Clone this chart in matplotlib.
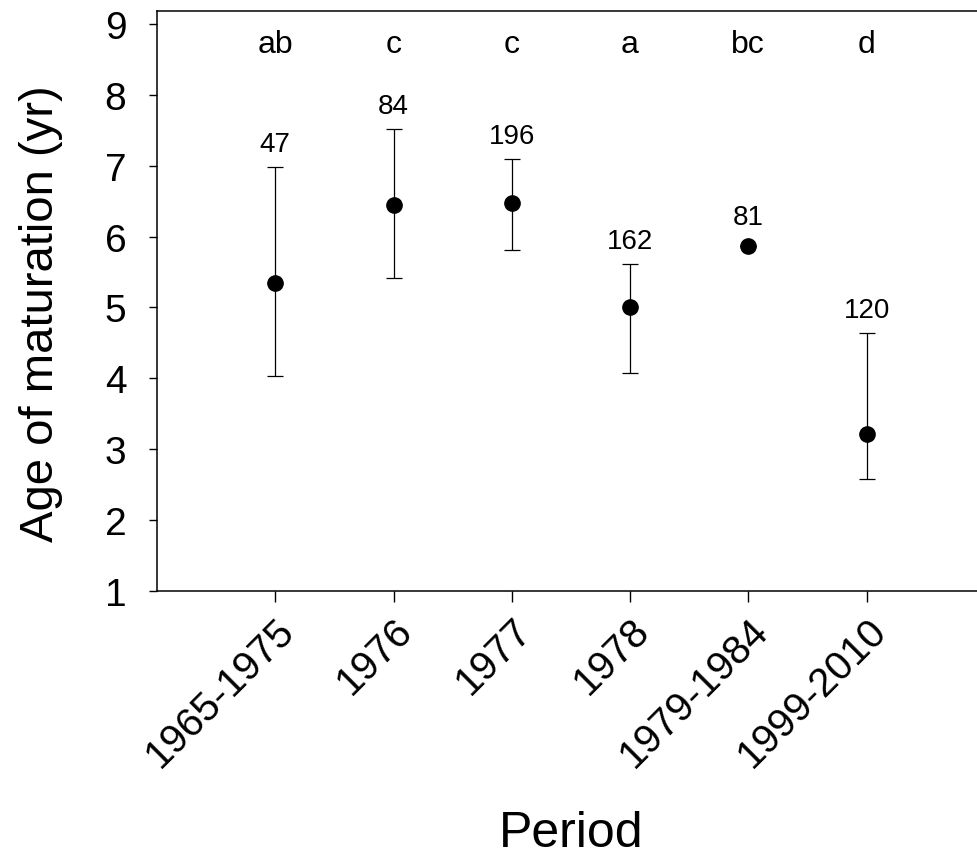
import numpy as np
import matplotlib
matplotlib.use("Agg")
import matplotlib.pyplot as plt

plt.rcParams['font.family'] = ['Liberation Sans', 'DejaVu Sans']

periods = ['1965-1975', '1976', '1977', '1978', '1979-1984', '1999-2010']
means = [5.34, 6.44, 6.47, 5.00, 5.87, 3.22]
lows = [4.03, 5.42, 5.81, 4.07, np.nan, 2.58]
highs = [6.98, 7.52, 7.10, 5.61, np.nan, 4.64]
n_fish = [47, 84, 196, 162, 81, 120]
groups = ['ab', 'c', 'c', 'a', 'bc', 'd']

x = np.arange(1, len(periods) + 1)
means_a = np.array(means)
err = np.array([means_a - np.array(lows), np.array(highs) - means_a])
err = np.nan_to_num(err)

fig = plt.figure(figsize=(9.78, 8.62), dpi=100)
ax = fig.add_axes([0.1605, 0.3132, 0.8465, 0.6728])

ax.errorbar(x, means, yerr=err, fmt='o', color='black', ms=11,
            ecolor='black', elinewidth=0.9, capsize=6, capthick=0.9)

for xi, m, hi, n in zip(x, means, highs, n_fish):
    if np.isnan(hi):
        ax.annotate(str(n), (xi, m), xytext=(0, 11), textcoords='offset points',
                    ha='center', va='bottom', fontsize=20)
    else:
        ax.annotate(str(n), (xi, hi), xytext=(0, 7), textcoords='offset points',
                    ha='center', va='bottom', fontsize=20)

for xi, g in zip(x, groups):
    ax.text(xi, 8.6, g, ha='center', va='baseline', fontsize=23)

ax.set_xlim(0, 7)
ax.set_ylim(1, 9.18)
ax.set_yticks(range(1, 10))
ax.set_xticks(x)
ax.set_xticklabels(periods, rotation=45, ha='right', va='top',
                   rotation_mode='anchor', fontsize=29)
ax.tick_params(axis='y', labelsize=28, length=6, width=1, pad=16)
ax.tick_params(axis='x', length=8, width=1, pad=6)
ax.spines['right'].set_visible(False)
for s in ['left', 'bottom', 'top']:
    ax.spines[s].set_linewidth(1.1)

ax.set_ylabel('Age of maturation (yr)', fontsize=34, va='center')
ax.yaxis.set_label_coords(-0.14, 0.48)
ax.set_xlabel('Period', fontsize=36, va='baseline')
ax.xaxis.set_label_coords(0.5, -0.44)

fig.savefig('out.png', dpi=100)
